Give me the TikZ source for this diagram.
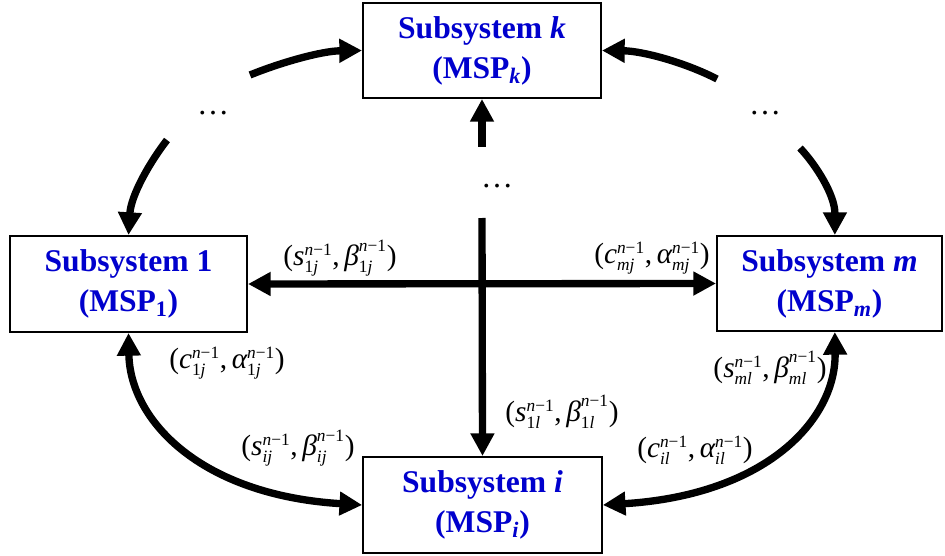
\documentclass[tikz,border=0pt]{standalone}
\usepackage{fontspec}
\usepackage{amsmath}
\setmainfont{Liberation Serif}
\usetikzlibrary{arrows.meta}
\definecolor{boxblue}{RGB}{0,0,205}
\DeclareMathSizes{22}{22}{13}{10}
\newcommand\ti[1]{\text{\itshape #1}}
\newcommand\nm{\text{\itshape n}\text{−1}}
\newcommand\pr[4]{$\text{(}\ti{#1}^{\nm}_{#2}\text{,}\,\ti{#3}^{\nm}_{#4}\text{)}$}
\tikzset{
  sysbox/.style={draw, line width=1.5pt, align=center, text=boxblue,
    font=\fontsize{23.7}{30}\selectfont\bfseries, inner sep=0pt},
  conn/.style={line width=5.5pt},
  lbl/.style={inner sep=0pt, font=\fontsize{22}{24}\selectfont},
  dotsty/.style={inner sep=0pt, font=\fontsize{24}{24}\selectfont}
}
\begin{document}
\begin{tikzpicture}[x=0.75pt, y=-0.75pt, >={Triangle[length=17pt,width=17pt]}]
\useasboundingbox (0,0) rectangle (945,556);

% boxes
\node[sysbox, minimum width=178.5pt, minimum height=71.25pt] (k) at (482,50.5) {Subsystem \textit{k}\\(MSP$_{\textit{k}}$)};
\node[sysbox, minimum width=177.75pt, minimum height=72pt] (n1) at (128.5,284) {Subsystem 1\\(MSP$_{\text{1}}$)};
\node[sysbox, minimum width=168.75pt, minimum height=71.25pt] (m) at (829.5,283.5) {Subsystem \textit{m}\\(MSP$_{\textit{m}}$)};
\node[sysbox, minimum width=179pt, minimum height=72pt] (i) at (482.5,505) {Subsystem \textit{i}\\(MSP$_{\textit{i}}$)};

% free ends
\coordinate (vt) at (482,147);
\coordinate (vb) at (482,218);
\coordinate (tl) at (250,75);
\coordinate (lt) at (167,140);
\coordinate (tr) at (717,79);
\coordinate (rt) at (800,148);

% straight connectors
\draw[conn,->] (vt) -- (k.south);
\draw[conn,->] (vb) -- (i.north);
\draw[conn,<->] (n1.east) -- (m.west);

% curved connectors
\draw[conn,->] (tl) .. controls (282,62) and (322,51) .. (k.west);
\draw[conn,->] (lt) .. controls (150,162) and (131,195) .. (n1.north);
\draw[conn,->] (tr) .. controls (684,62) and (642,51) .. (k.east);
\draw[conn,->] (rt) .. controls (816,165) and (835,195) .. ([xshift=4pt]m.north);
\draw[conn,<->] (n1.south) .. controls (130,420) and (200,495) .. (i.west);
\draw[conn,<->] ([xshift=4pt]m.south) .. controls (836,420) and (766,495) .. (i.east);

% labels
\node[lbl] (l1) at (340,258) {\pr{s}{\text{1}\ti{j}}{β}{\text{1}\ti{j}}};
\node[lbl] (l2) at (652,258) {\pr{c}{\ti{mj}}{α}{\ti{mj}}};
\node[lbl] (l3) at (227,363) {\pr{c}{\text{1}\ti{j}}{α}{\text{1}\ti{j}}};
\node[lbl] (l4) at (298,448) {\pr{s}{\ti{ij}}{β}{\ti{ij}}};
\node[lbl] (l5) at (562,412) {\pr{s}{\text{1}\ti{l}}{β}{\text{1}\ti{l}}};
\node[lbl] (l6) at (770,368) {\pr{s}{\ti{ml}}{β}{\ti{ml}}};
\node[lbl] (l7) at (695,450) {\pr{c}{\ti{il}}{α}{\ti{il}}};

% ellipses
\node[dotsty] (d1) at (213,113) {…};
\node[dotsty] (d2) at (765,113) {…};
\node[dotsty] (d3) at (497,186) {…};
\end{tikzpicture}
\end{document}
